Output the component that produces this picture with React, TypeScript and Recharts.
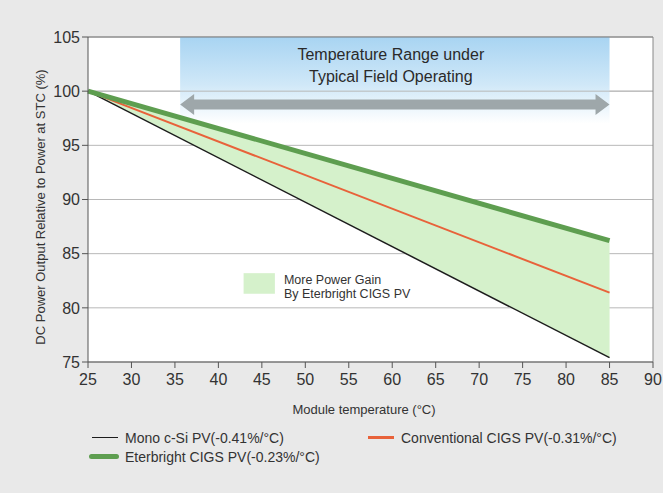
import React from "react";
import {
  ComposedChart,
  Line,
  Area,
  XAxis,
  YAxis,
  CartesianGrid,
  ReferenceArea,
  ReferenceLine,
  Label,
} from "recharts";

// ---- data ----
const temps = [25, 85];
const monoSi = [100, 75.4];
const convCigs = [100, 81.4];
const eterCigs = [100, 86.2];

const xTicks = [25, 30, 35, 40, 45, 50, 55, 60, 65, 70, 75, 80, 85, 90];
const yTicks = [75, 80, 85, 90, 95, 100, 105];

const seriesNames = [
  "Mono c-Si PV(-0.41%/°C)",
  "Conventional CIGS PV(-0.31%/°C)",
  "Eterbright CIGS PV(-0.23%/°C)",
];
const bandText = ["Temperature Range under", "Typical Field Operating"];
const gainText = ["More Power Gain", "By Eterbright CIGS PV"];
const xTitle = "Module temperature (°C)";
const yTitle = "DC Power Output Relative to Power at STC (%)";

// field-operating range
const rangeStart = 35.6;
const rangeEnd = 85;

const data = temps.map((t, i) => ({
  t,
  mono: monoSi[i],
  conv: convCigs[i],
  eter: eterCigs[i],
  gain: [monoSi[i], eterCigs[i]],
}));

const FONT = '"Liberation Sans", Arial, Helvetica, sans-serif';
const TXT = "#333";

const BandShape = (props: any) => {
  const { x, y, width, height } = props;
  const cx = x + width / 2 - 4;
  return (
    <g>
      <rect x={x} y={y} width={width} height={height} fill="url(#bandGrad)" />
      <text x={cx} y={y + 23} textAnchor="middle" fontSize={16} fill="#2a2a2a" fontFamily={FONT}>
        {bandText[0]}
      </text>
      <text x={cx} y={y + 45} textAnchor="middle" fontSize={16} fill="#2a2a2a" fontFamily={FONT}>
        {bandText[1]}
      </text>
    </g>
  );
};

const ArrowShape = (props: any) => {
  const { x, y, width, height } = props;
  const cy = y + height / 2;
  const hl = 14;
  const bh = 5;
  const pts = [
    [x, cy],
    [x + hl, y],
    [x + hl, cy - bh],
    [x + width - hl, cy - bh],
    [x + width - hl, y],
    [x + width, cy],
    [x + width - hl, y + height],
    [x + width - hl, cy + bh],
    [x + hl, cy + bh],
    [x + hl, y + height],
  ]
    .map((p) => p.join(","))
    .join(" ");
  return <polygon points={pts} fill="#9ea7aa" />;
};

const GainKeyShape = (props: any) => {
  const { x, y, width, height } = props;
  return (
    <g>
      <rect x={x} y={y} width={width} height={height} fill="#d5f1cb" />
      <text x={x + width + 9} y={y + 11} fontSize={12.5} fill={TXT} fontFamily={FONT}>
        {gainText[0]}
      </text>
      <text x={x + width + 9} y={y + 25} fontSize={12.5} fill={TXT} fontFamily={FONT}>
        {gainText[1]}
      </text>
    </g>
  );
};

const legendItems = [
  { name: seriesNames[0], color: "#1c1c1c", w: 1.5, col: 0, row: 0 },
  { name: seriesNames[1], color: "#e8623a", w: 2.5, col: 1, row: 0 },
  { name: seriesNames[2], color: "#5e9e50", w: 5, col: 0, row: 1 },
];

export default function App() {
  return (
    <div
      style={{
        position: "absolute",
        left: 0,
        top: 0,
        width: 663,
        height: 493,
        background: "#e9e9e9",
        fontFamily: FONT,
        overflow: "hidden",
      }}
    >
      <ComposedChart
        width={663}
        height={493}
        data={data}
        margin={{ top: 37, right: 10, left: 0, bottom: 101 }}
      >
        <defs>
          <linearGradient id="bandGrad" x1="0" y1="0" x2="0" y2="1">
            <stop offset="0%" stopColor="#a8d4f2" />
            <stop offset="55%" stopColor="#d0e8f8" />
            <stop offset="100%" stopColor="#ffffff" />
          </linearGradient>
        </defs>
        <CartesianGrid vertical={false} stroke="#b8b8b8" fill="#ffffff" />
        <XAxis
          dataKey="t"
          type="number"
          domain={[25, 90]}
          ticks={xTicks}
          interval={0}
          height={30}
          tickSize={6}
          tickMargin={6}
          stroke="#555"
          tick={{ fontSize: 16, fill: TXT, fontFamily: FONT }}
        >
          <Label
            content={() => (
              <text x={364} y={414} textAnchor="middle" fontSize={13} fill={TXT} fontFamily={FONT}>
                {xTitle}
              </text>
            )}
          />
        </XAxis>
        <YAxis
          type="number"
          domain={[75, 105]}
          ticks={yTicks}
          interval={0}
          width={88}
          tickSize={6}
          tickMargin={2}
          stroke="#555"
          tick={{ fontSize: 16, fill: TXT, fontFamily: FONT }}
        >
          <Label
            content={() => (
              <text
                x={45}
                y={207}
                transform="rotate(-90 45 207)"
                textAnchor="middle"
                fontSize={13}
                fill={TXT}
                fontFamily={FONT}
              >
                {yTitle}
              </text>
            )}
          />
        </YAxis>
        <ReferenceArea
          x1={rangeStart}
          x2={rangeEnd}
          y1={97}
          y2={105}
          shape={BandShape}
          ifOverflow="visible"
        />
        <ReferenceLine y={100} stroke="#b8b8b8" />
        <ReferenceLine y={105} stroke="#777" />
        <ReferenceLine x={90} stroke="#888" />
        <ReferenceArea
          x1={rangeStart}
          x2={rangeEnd}
          y1={97.8}
          y2={99.74}
          shape={ArrowShape}
          ifOverflow="visible"
        />
        <ReferenceArea x1={42.9} x2={46.5} y1={81.3} y2={83.2} shape={GainKeyShape} ifOverflow="visible" />
        <Area
          dataKey="gain"
          type="linear"
          stroke="none"
          fill="#d5f1cb"
          fillOpacity={1}
          isAnimationActive={false}
          dot={false}
          activeDot={false}
        />
        <Line
          dataKey="mono"
          type="linear"
          stroke="#1c1c1c"
          strokeWidth={1.5}
          dot={false}
          activeDot={false}
          isAnimationActive={false}
        />
        <Line
          dataKey="conv"
          type="linear"
          stroke="#e8623a"
          strokeWidth={2}
          dot={false}
          activeDot={false}
          isAnimationActive={false}
        />
        <Line
          dataKey="eter"
          type="linear"
          stroke="#5e9e50"
          strokeWidth={5}
          dot={false}
          activeDot={false}
          isAnimationActive={false}
        />
      </ComposedChart>
      {legendItems.map((it) => (
        <div
          key={it.name}
          style={{
            position: "absolute",
            left: it.col === 0 ? 89 : 365,
            top: 428 + it.row * 19,
            height: 19,
            display: "flex",
            alignItems: "center",
            fontSize: 14,
            color: TXT,
            whiteSpace: "nowrap",
          }}
        >
          <span
            style={{
              display: "inline-block",
              width: it.col === 0 && it.row === 1 ? 30 : 26,
              marginLeft: it.col === 0 && it.row === 1 ? 0 : 3,
              height: it.w,
              background: it.color,
              borderRadius: it.w > 3 ? 3 : 0,
              marginRight: it.col === 0 && it.row === 1 ? 6 : 7,
            }}
          />
          <span>{it.name}</span>
        </div>
      ))}
    </div>
  );
}
